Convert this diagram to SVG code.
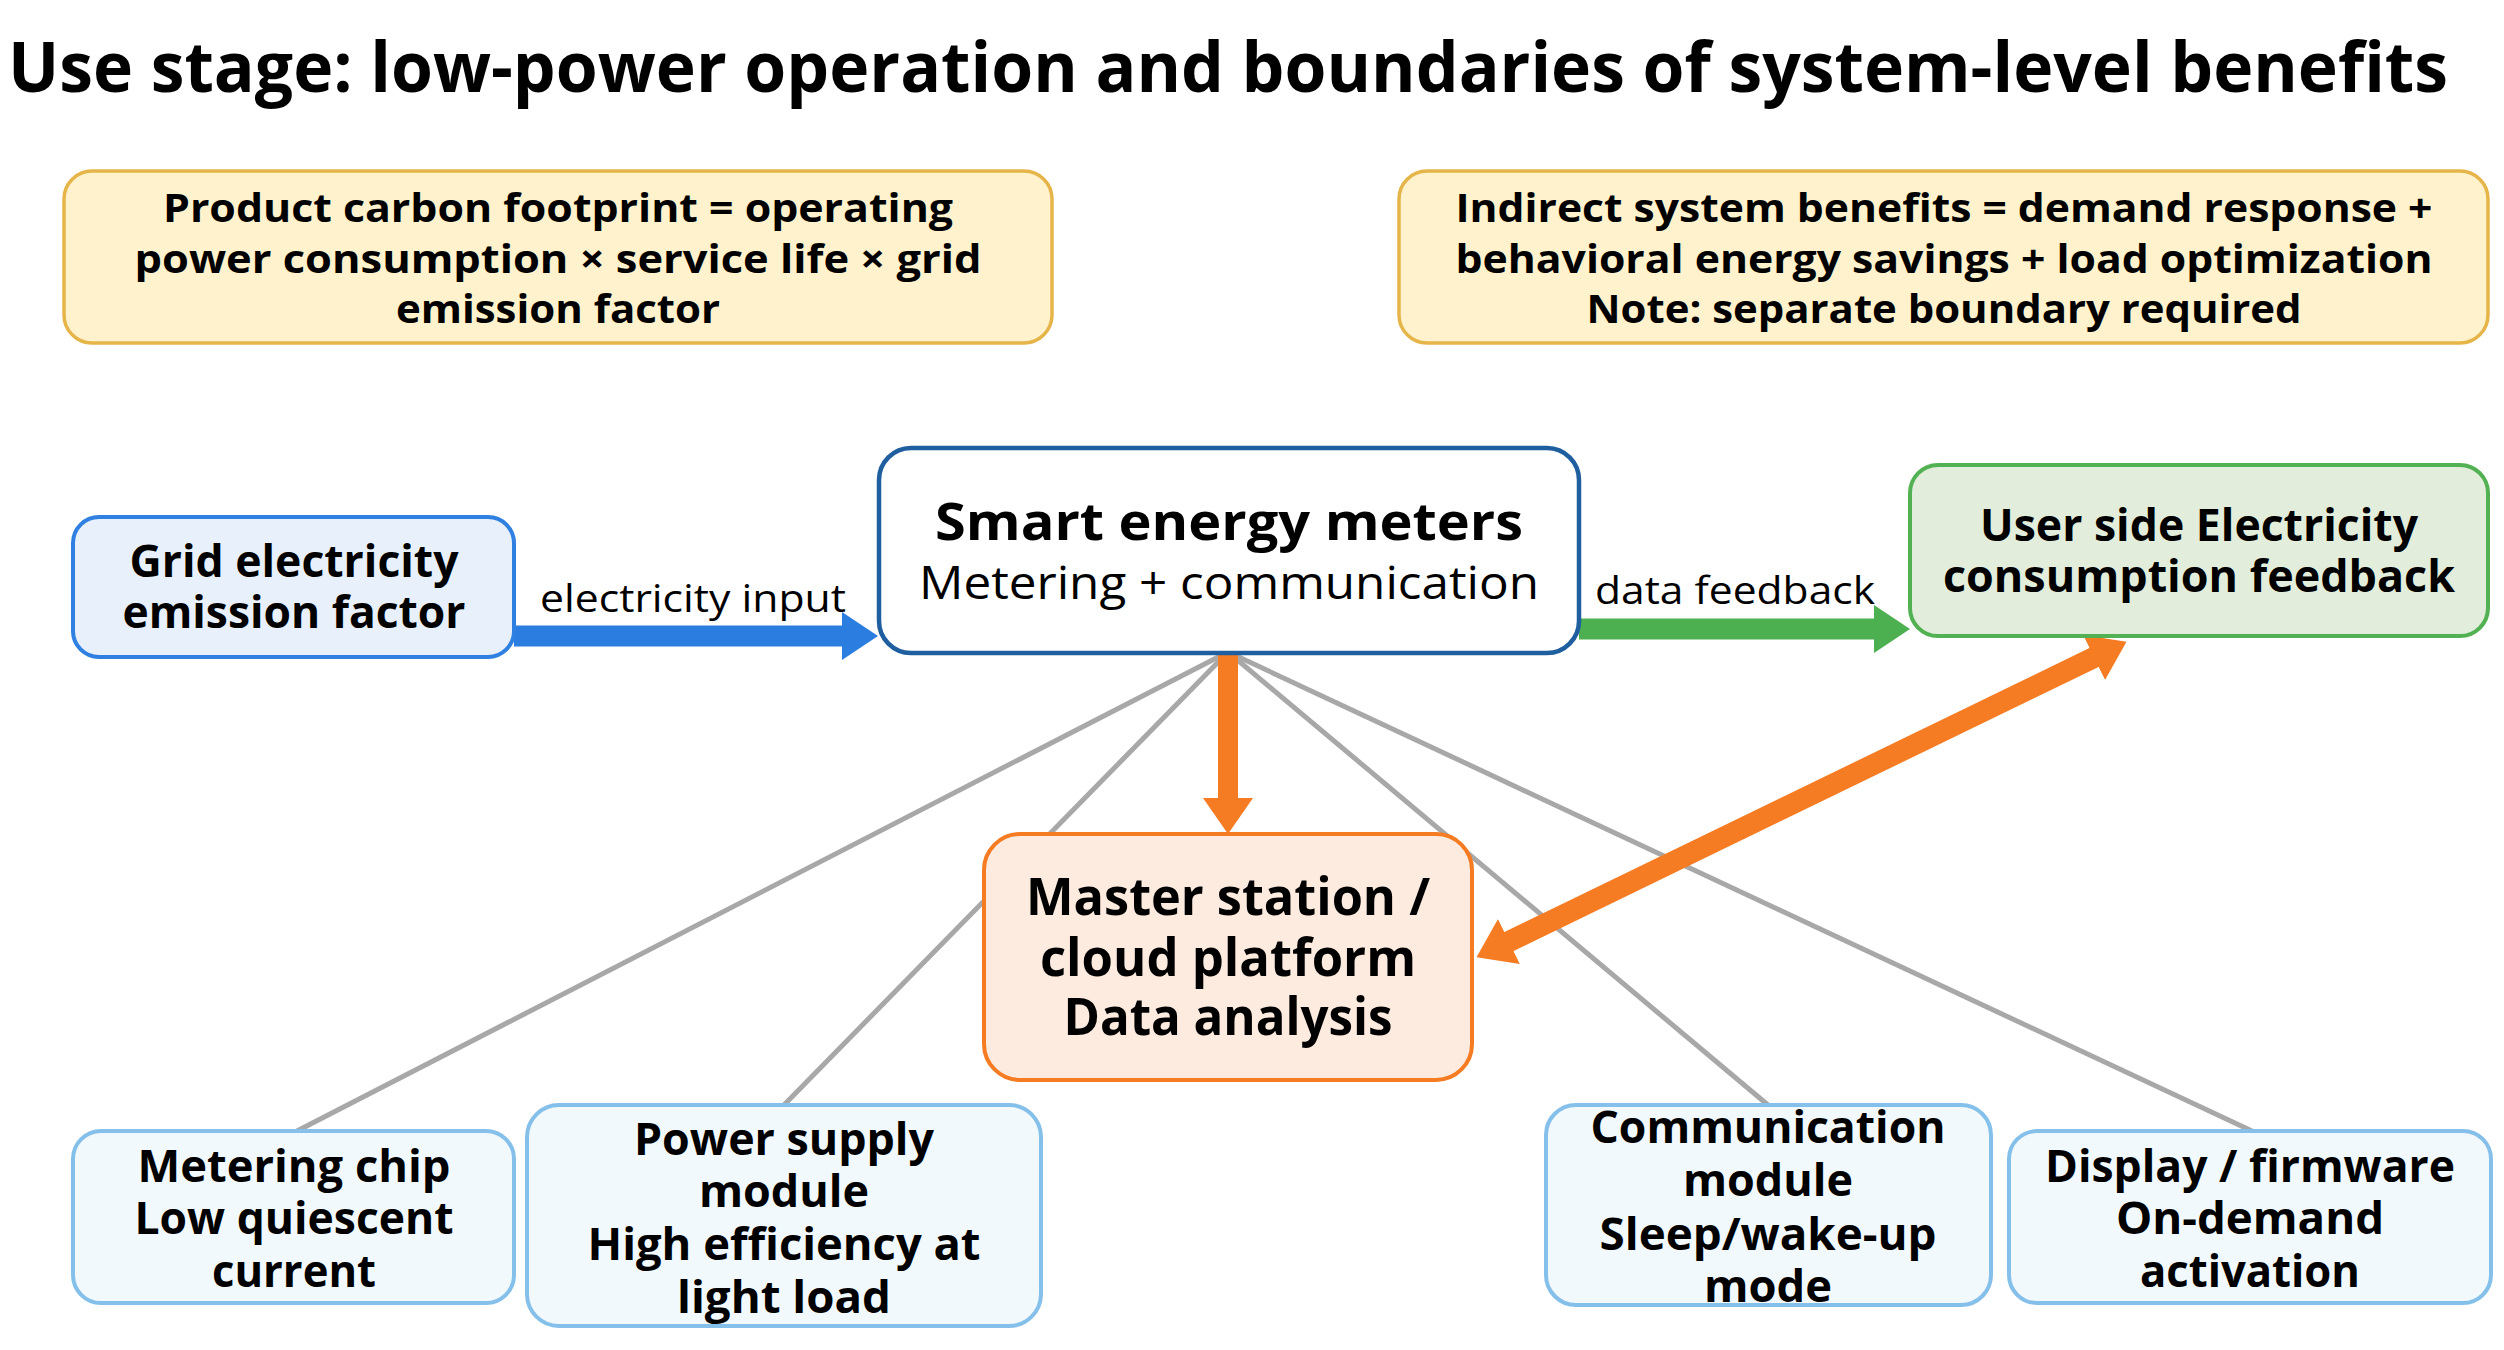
<svg xmlns="http://www.w3.org/2000/svg" width="2504" height="1350" viewBox="0 0 2504 1350">
<style>
text{font-family:"Open Sans","Noto Sans","Liberation Sans",sans-serif;fill:#000;text-anchor:middle}
.title{font-size:70px;font-weight:700;text-anchor:start}
.b40{font-size:40px;font-weight:700}
.b44{font-size:44px;font-weight:700}
.b52{font-size:52px;font-weight:700}
.r{font-size:38px;font-weight:400}
.r45{font-size:45px;font-weight:400}
.yel{fill:#FFF2CC;stroke:#E6B54A;stroke-width:3.5}
.grid{fill:#E8F1FB;stroke:#2F80E0;stroke-width:4}
.smart{fill:#FFFFFF;stroke:#1F5FA0;stroke-width:4.5}
.green{fill:#E2EEDB;stroke:#52B152;stroke-width:4}
.master{fill:#FDEBDF;stroke:#F57C22;stroke-width:4}
.comp{fill:#F2F9FD;stroke:#85C0EA;stroke-width:4}
.gray{stroke:#A8A8A8;stroke-width:5;fill:none}
</style>
<defs>
<marker id="ahBlue" markerUnits="userSpaceOnUse" markerWidth="36" markerHeight="48" viewBox="0 0 36 48" refX="1" refY="24" orient="auto"><path d="M0,0 L36,24 L0,48 z" fill="#2B7DE0"/></marker>
<marker id="ahGreen" markerUnits="userSpaceOnUse" markerWidth="36" markerHeight="48" viewBox="0 0 36 48" refX="1" refY="24" orient="auto"><path d="M0,0 L36,24 L0,48 z" fill="#4CAF50"/></marker>
<marker id="ahOrange" markerUnits="userSpaceOnUse" markerWidth="36" markerHeight="50" viewBox="0 0 36 50" refX="1" refY="25" orient="auto-start-reverse"><path d="M0,0 L36,25 L0,50 z" fill="#F57C22"/></marker>
</defs>

<text class="title" x="8" y="92" textLength="2440" lengthAdjust="spacingAndGlyphs">Use stage: low-power operation and boundaries of system-level benefits</text>

<g id="connectors">
<line class="gray" x1="1228" y1="652" x2="297" y2="1131"/>
<line class="gray" x1="1228" y1="652" x2="784" y2="1105"/>
<line class="gray" x1="1228" y1="652" x2="1768" y2="1105"/>
<line class="gray" x1="1228" y1="652" x2="2252" y2="1131"/>
<line x1="514" y1="636" x2="843" y2="636" stroke="#2B7DE0" stroke-width="21" marker-end="url(#ahBlue)"/>
<line x1="1579" y1="629" x2="1875" y2="629" stroke="#4CAF50" stroke-width="21" marker-end="url(#ahGreen)"/>
<line x1="1228" y1="655" x2="1228" y2="799" stroke="#F57C22" stroke-width="20" marker-end="url(#ahOrange)"/>
<line x1="1508" y1="942" x2="2095" y2="657" stroke="#F57C22" stroke-width="21" marker-start="url(#ahOrange)" marker-end="url(#ahOrange)"/>
<text class="r" x="693" y="612" textLength="306" lengthAdjust="spacingAndGlyphs">electricity input</text>
<text class="r" x="1735" y="604" textLength="280" lengthAdjust="spacingAndGlyphs">data feedback</text>
</g>

<g id="formula-footprint">
<rect class="yel" x="64" y="171" width="988" height="172" rx="28"/>
<text class="b40" x="558" y="222" textLength="790" lengthAdjust="spacingAndGlyphs">Product carbon footprint = operating</text>
<text class="b40" x="558" y="273" textLength="847" lengthAdjust="spacingAndGlyphs">power consumption × service life × grid</text>
<text class="b40" x="558" y="323" textLength="324" lengthAdjust="spacingAndGlyphs">emission factor</text>
</g>

<g id="formula-indirect">
<rect class="yel" x="1399" y="171" width="1089" height="172" rx="28"/>
<text class="b40" x="1944" y="222" textLength="977" lengthAdjust="spacingAndGlyphs">Indirect system benefits = demand response +</text>
<text class="b40" x="1944" y="273" textLength="977" lengthAdjust="spacingAndGlyphs">behavioral energy savings + load optimization</text>
<text class="b40" x="1944" y="323" textLength="715" lengthAdjust="spacingAndGlyphs">Note: separate boundary required</text>
</g>

<g id="grid-factor">
<rect class="grid" x="73" y="517" width="441" height="140" rx="26"/>
<text class="b44" x="294" y="577" textLength="329" lengthAdjust="spacingAndGlyphs">Grid electricity</text>
<text class="b44" x="294" y="628" textLength="343" lengthAdjust="spacingAndGlyphs">emission factor</text>
</g>

<g id="smart-meter">
<rect class="smart" x="879" y="448" width="700" height="205" rx="32"/>
<text class="b52" x="1229" y="540" textLength="588" lengthAdjust="spacingAndGlyphs">Smart energy meters</text>
<text class="r45" x="1229" y="599" textLength="620" lengthAdjust="spacingAndGlyphs">Metering + communication</text>
</g>

<g id="user-feedback">
<rect class="green" x="1910" y="465" width="578" height="171" rx="28"/>
<text class="b44" x="2199" y="541" textLength="438" lengthAdjust="spacingAndGlyphs">User side Electricity</text>
<text class="b44" x="2199" y="592" textLength="512" lengthAdjust="spacingAndGlyphs">consumption feedback</text>
</g>

<g id="master-station">
<rect class="master" x="984" y="834" width="488" height="246" rx="36"/>
<text class="b52" x="1228" y="915" textLength="404" lengthAdjust="spacingAndGlyphs">Master station /</text>
<text class="b52" x="1228" y="976" textLength="376" lengthAdjust="spacingAndGlyphs">cloud platform</text>
<text class="b52" x="1228" y="1035" textLength="329" lengthAdjust="spacingAndGlyphs">Data analysis</text>
</g>

<g id="metering-chip">
<rect class="comp" x="73" y="1131" width="441" height="172" rx="28"/>
<text class="b44" x="294" y="1182" textLength="313" lengthAdjust="spacingAndGlyphs">Metering chip</text>
<text class="b44" x="294" y="1234" textLength="319" lengthAdjust="spacingAndGlyphs">Low quiescent</text>
<text class="b44" x="294" y="1287" textLength="164" lengthAdjust="spacingAndGlyphs">current</text>
</g>

<g id="power-supply">
<rect class="comp" x="527" y="1105" width="514" height="221" rx="32"/>
<text class="b44" x="784" y="1155" textLength="300" lengthAdjust="spacingAndGlyphs">Power supply</text>
<text class="b44" x="784" y="1207" textLength="170" lengthAdjust="spacingAndGlyphs">module</text>
<text class="b44" x="784" y="1260" textLength="393" lengthAdjust="spacingAndGlyphs">High efficiency at</text>
<text class="b44" x="784" y="1313" textLength="214" lengthAdjust="spacingAndGlyphs">light load</text>
</g>

<g id="communication">
<rect class="comp" x="1546" y="1105" width="445" height="200" rx="30"/>
<text class="b44" x="1768" y="1143" textLength="355" lengthAdjust="spacingAndGlyphs">Communication</text>
<text class="b44" x="1768" y="1196" textLength="170" lengthAdjust="spacingAndGlyphs">module</text>
<text class="b44" x="1768" y="1250" textLength="337" lengthAdjust="spacingAndGlyphs">Sleep/wake-up</text>
<text class="b44" x="1768" y="1302" textLength="128" lengthAdjust="spacingAndGlyphs">mode</text>
</g>

<g id="display-firmware">
<rect class="comp" x="2009" y="1131" width="482" height="172" rx="28"/>
<text class="b44" x="2250" y="1182" textLength="410" lengthAdjust="spacingAndGlyphs">Display / firmware</text>
<text class="b44" x="2250" y="1234" textLength="268" lengthAdjust="spacingAndGlyphs">On-demand</text>
<text class="b44" x="2250" y="1287" textLength="220" lengthAdjust="spacingAndGlyphs">activation</text>
</g>
</svg>
